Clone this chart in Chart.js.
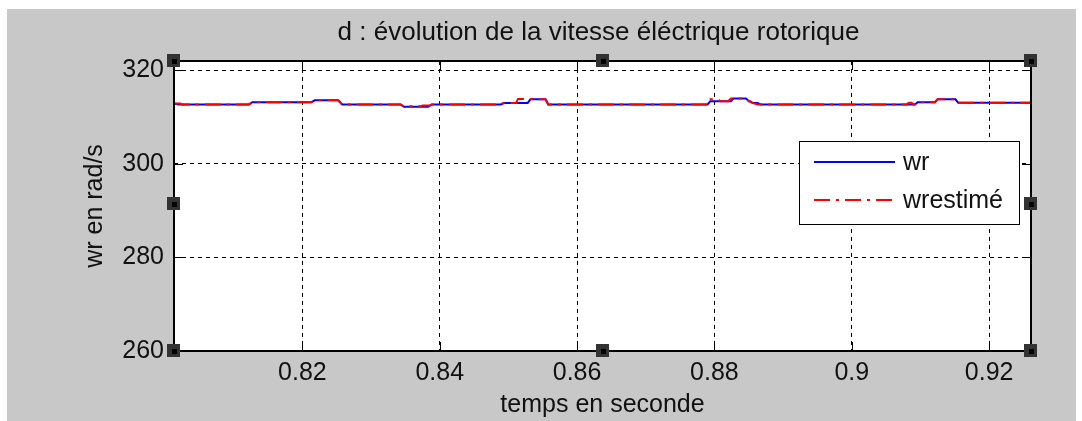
<!DOCTYPE html>
<html>
<head>
<meta charset="utf-8">
<script src="https://cdn.jsdelivr.net/npm/chart.js@4"></script>
<style>
  html, body { margin: 0; padding: 0; background: #fff; }
  canvas { display: block; }
</style>
</head>
<body>
<canvas id="vitesse" width="1082" height="421"></canvas>
<script>
'use strict';
// data
var chartTitle = 'd : évolution de la vitesse éléctrique rotorique';
var xTitle = 'temps en seconde';
var yTitle = 'wr en rad/s';
var xTicks = [0.82, 0.84, 0.86, 0.88, 0.9, 0.92];
var yTicks = [260, 280, 300, 320];
var xMin = 0.8013, xMax = 0.9261, yMin = 260, yMax = 322;

var tWr = [0.8013, 0.8019, 0.8122, 0.8127, 0.8213, 0.8218, 0.8252, 0.8258, 0.8343, 0.8348,
  0.8383, 0.8388, 0.8489, 0.8493, 0.8528, 0.8532, 0.8554, 0.8558, 0.8790, 0.8794,
  0.8824, 0.8828, 0.8846, 0.8850, 0.8852, 0.8856, 0.8863, 0.8867, 0.9092, 0.9096,
  0.9121, 0.9125, 0.9151, 0.9155, 0.9261];
var wr = [312.9, 312.7, 312.7, 313.2, 313.2, 313.6, 313.6, 312.7, 312.7, 312.2,
  312.2, 312.7, 312.7, 313.0, 313.0, 313.8, 313.8, 312.7, 312.7, 313.4,
  313.4, 314.0, 314.0, 313.4, 313.4, 313.0, 313.0, 312.7, 312.7, 313.2,
  313.2, 313.8, 313.8, 313.1, 313.1];

var tEst = [0.8013, 0.8022, 0.8025, 0.8122, 0.8127, 0.8213, 0.8218, 0.8252, 0.8258, 0.8343,
  0.8348, 0.8372, 0.8375, 0.8386, 0.8389, 0.8489, 0.8493, 0.8511, 0.8514, 0.8554,
  0.8558, 0.8790, 0.8794, 0.8805, 0.8809, 0.8820, 0.8824, 0.8846, 0.8850, 0.8856,
  0.8863, 0.9080, 0.9083, 0.9087, 0.9090, 0.9092, 0.9096, 0.9121, 0.9125, 0.9151,
  0.9155, 0.9261];
var wrEst = [312.9, 312.9, 312.7, 312.7, 313.2, 313.2, 313.6, 313.6, 312.7, 312.7,
  312.3, 312.3, 312.5, 312.5, 312.7, 312.7, 313.0, 313.0, 313.9, 313.8,
  312.7, 312.7, 313.8, 313.8, 313.4, 313.4, 314.0, 314.0, 313.4, 313.0,
  312.7, 312.7, 313.1, 313.1, 312.7, 312.7, 313.2, 313.2, 313.8, 313.8,
  313.1, 313.1];

var FONT = '"Liberation Sans", Arial, sans-serif';
var FS = 25;

function pts(t, v) {
  return t.map(function (x, i) { return { x: x, y: v[i] }; });
}

// MATLAB look: grey figure, boxed axes, inward ticks, selection handles, legend box
var figPlugin = {
  id: 'fig',
  beforeDraw: function (chart) {
    var ctx = chart.ctx, a = chart.chartArea;
    ctx.save();
    ctx.fillStyle = '#fff';
    ctx.fillRect(0, 0, chart.width, chart.height);
    ctx.fillStyle = '#c8c8c8';
    ctx.fillRect(7, 9, 1069, 412);
    ctx.fillStyle = '#fff';
    ctx.fillRect(a.left, a.top, a.right - a.left, a.bottom - a.top);
    ctx.restore();
  },
  afterDraw: function (chart) {
    var ctx = chart.ctx, a = chart.chartArea;
    var xs = chart.scales.x, ys = chart.scales.y;
    ctx.save();
    // inward tick marks
    ctx.strokeStyle = '#000';
    ctx.lineWidth = 1;
    ctx.beginPath();
    xs.ticks.forEach(function (t) {
      var px = Math.round(xs.getPixelForValue(t.value)) + 0.5;
      ctx.moveTo(px, a.bottom); ctx.lineTo(px, a.bottom - 9);
      ctx.moveTo(px, a.top); ctx.lineTo(px, a.top + 9);
    });
    ys.ticks.forEach(function (t) {
      var py = Math.round(ys.getPixelForValue(t.value)) + 0.5;
      ctx.moveTo(a.left, py); ctx.lineTo(a.left + 9, py);
      ctx.moveTo(a.right, py); ctx.lineTo(a.right - 9, py);
    });
    ctx.stroke();
    // axes box
    ctx.lineWidth = 2;
    ctx.strokeRect(a.left, a.top, a.right - a.left, a.bottom - a.top);

    // title
    ctx.fillStyle = '#111';
    ctx.font = '26px ' + FONT;
    ctx.textAlign = 'center';
    ctx.textBaseline = 'alphabetic';
    ctx.fillText(chartTitle, (a.left + a.right) / 2 - 4, 40);

    // legend
    ctx.font = FS + 'px ' + FONT;
    var lx = 799, ly = 141, lw = 220, lh = 83;
    ctx.fillStyle = '#fff';
    ctx.fillRect(lx, ly, lw, lh);
    ctx.lineWidth = 1;
    ctx.strokeStyle = '#000';
    ctx.strokeRect(lx + 0.5, ly + 0.5, lw, lh);
    var rows = [162, 200];
    chart.data.datasets.forEach(function (ds, i) {
      var y = rows[i];
      ctx.beginPath();
      ctx.strokeStyle = ds.borderColor;
      ctx.lineWidth = 2;
      ctx.setLineDash(ds.borderDash || []);
      ctx.moveTo(814, y); ctx.lineTo(895, y);
      ctx.stroke();
      ctx.setLineDash([]);
      ctx.fillStyle = '#111';
      ctx.textAlign = 'left';
      ctx.textBaseline = 'middle';
      ctx.fillText(ds.label, 903, y + 1);
    });

    // selection handles
    var cx = (a.left + a.right) / 2, cy = (a.top + a.bottom) / 2 - 2;
    var hs = [[a.left, a.top], [cx, a.top], [a.right, a.top],
              [a.left, cy], [a.right, cy],
              [a.left, a.bottom], [cx, a.bottom], [a.right, a.bottom]];
    hs.forEach(function (h) {
      ctx.fillStyle = '#333';
      ctx.fillRect(Math.round(h[0]) - 7, Math.round(h[1]) - 7, 13, 13);
      ctx.fillStyle = '#000';
      ctx.fillRect(Math.round(h[0]) - 2, Math.round(h[1]) - 2, 5, 5);
    });
    ctx.restore();
  }
};

var ctx = document.getElementById('vitesse').getContext('2d');
var chart = new Chart(ctx, {
  type: 'line',
  data: {
    datasets: [{
      label: 'wr',
      data: pts(tWr, wr),
      borderColor: '#0000ff',
      borderWidth: 2,
      pointRadius: 0,
      tension: 0,
      order: 1
    }, {
      label: 'wrestimé',
      data: pts(tEst, wrEst),
      borderColor: '#ff0000',
      borderWidth: 2,
      borderDash: [16, 6, 3, 6],
      pointRadius: 0,
      tension: 0,
      order: 0
    }]
  },
  options: {
    responsive: false,
    animation: false,
    layout: { padding: { left: 60, top: 61, right: 51, bottom: 0 } },
    plugins: {
      legend: { display: false },
      tooltip: { enabled: false },
      title: { display: false }
    },
    scales: {
      x: {
        type: 'linear',
        min: xMin,
        max: xMax,
        afterBuildTicks: function (s) { s.ticks = xTicks.map(function (v) { return { value: v }; }); },
        afterFit: function (s) { s.height = 70; },
        grid: { color: '#000', lineWidth: 1, drawTicks: false },
        border: { display: false, dash: [4, 4] },
        ticks: {
          color: '#111',
          font: { family: FONT, size: FS },
          padding: 7,
          maxRotation: 0,
          autoSkip: false,
          callback: function (v) { return String(v); }
        },
        title: {
          display: true,
          text: xTitle,
          color: '#111',
          font: { family: FONT, size: FS },
          padding: { top: 0, bottom: 1 }
        }
      },
      y: {
        min: yMin,
        max: yMax,
        afterBuildTicks: function (s) { s.ticks = yTicks.map(function (v) { return { value: v }; }); },
        afterFit: function (s) { s.width = 114; },
        grid: { color: '#000', lineWidth: 1, drawTicks: false },
        border: { display: false, dash: [4, 4] },
        ticks: {
          color: '#111',
          font: { family: FONT, size: FS },
          padding: 10,
          autoSkip: false
        },
        title: {
          display: true,
          text: yTitle,
          color: '#111',
          font: { family: FONT, size: FS },
          padding: { top: 20, bottom: 0 }
        }
      }
    }
  },
  plugins: [figPlugin]
});
</script>
</body>
</html>
